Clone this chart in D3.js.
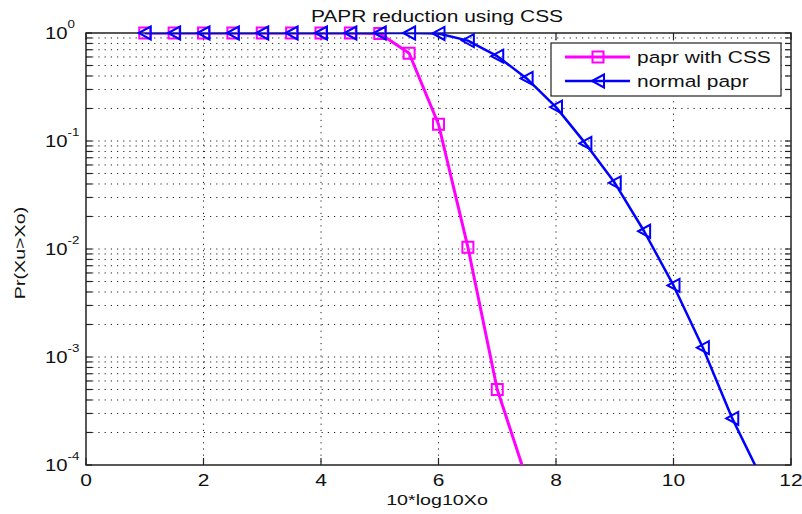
<!doctype html>
<html lang='en'>
<head>
    <meta charset='UTF-8'>
    <title>PAPR reduction using CSS</title>
    <style>
        body { margin: 0; background: #fff; }
        svg { display: block; }
        text { font-family: 'Liberation Sans', Arial, sans-serif; fill: #111; }
        .grid line { stroke: #222; stroke-width: 1; stroke-dasharray: 1.2, 5; }
        .frame { fill: none; stroke: #222; stroke-width: 1.5; }
        .ticks line { stroke: #222; stroke-width: 1.2; }
    </style>
</head>
<body>
<script src='https://d3js.org/d3.v7.min.js'></script>
<script>
  // data
  const cssX = [1, 1.5, 2, 2.5, 3, 3.5, 4, 4.5, 5, 5.5, 6, 6.5, 7, 7.5]
  const cssY = [1, 1, 1, 1, 1, 1, 1, 1, 0.99, 0.65, 0.143, 0.0104, 0.0005, 0.000074]
  const normalX = [1, 1.5, 2, 2.5, 3, 3.5, 4, 4.5, 5, 5.5, 6, 6.5, 7, 7.5, 8, 8.5, 9, 9.5, 10, 10.5, 11, 11.5]
  const normalY = [1, 1, 1, 1, 1, 1, 1, 1, 1, 1, 0.99, 0.85, 0.61, 0.38, 0.206, 0.095, 0.041, 0.0146, 0.0046, 0.00122, 0.00027, 0.000075]
  const xTicks = [0, 2, 4, 6, 8, 10, 12]
  const yDecades = [0, -1, -2, -3, -4]
  const seriesNames = ['papr with CSS', 'normal papr']

  const W = 802, H = 514
  const margin = {top: 33, right: 11, bottom: 49, left: 86}
  const w = W - margin.left - margin.right,
    h = H - margin.top - margin.bottom
  const SX = 1.27 // the original figure is stretched sideways

  const xScale = d3.scaleLinear().domain([0, 12]).range([0, w])
  const yScale = d3.scaleLog().domain([1e-4, 1]).range([h, 0])

  const svg = d3.select('body').append('svg')
    .attr('width', W)
    .attr('height', H)

  const g = svg.append('g')
    .attr('transform', `translate(${margin.left}, ${margin.top})`)

  function label(sel, x, y, s, size, anchor) {
    return sel.append('text')
      .attr('transform', `translate(${x}, ${y}) scale(${SX}, 1)`)
      .attr('text-anchor', anchor || 'middle')
      .style('font-size', size + 'px')
      .text(s)
  }

  //// grid ////
  const minor = []
  yDecades.slice(0, -1).forEach(e => {
    for (let k = 1; k < 10; k++) minor.push(k * Math.pow(10, e - 1))
  })
  const grid = g.append('g').attr('class', 'grid')
  grid.selectAll('line.h')
    .data(minor.filter(v => v > 1e-4))
    .enter().append('line')
    .attr('x1', 0).attr('x2', w)
    .attr('y1', d => yScale(d)).attr('y2', d => yScale(d))
  grid.selectAll('line.v')
    .data(xTicks.slice(1, -1))
    .enter().append('line')
    .attr('x1', d => xScale(d)).attr('x2', d => xScale(d))
    .attr('y1', 0).attr('y2', h)

  //// ticks (inward, on all four sides) ////
  const ticks = g.append('g').attr('class', 'ticks')
  const yTickVals = minor.concat([1])
  ticks.selectAll('line.l')
    .data(yTickVals)
    .enter().append('line')
    .attr('x1', 0).attr('x2', 6)
    .attr('y1', d => yScale(d)).attr('y2', d => yScale(d))
  ticks.selectAll('line.r')
    .data(yTickVals)
    .enter().append('line')
    .attr('x1', w).attr('x2', w - 6)
    .attr('y1', d => yScale(d)).attr('y2', d => yScale(d))
  ticks.selectAll('line.b')
    .data(xTicks)
    .enter().append('line')
    .attr('x1', d => xScale(d)).attr('x2', d => xScale(d))
    .attr('y1', h).attr('y2', h - 7)
  ticks.selectAll('line.t')
    .data(xTicks)
    .enter().append('line')
    .attr('x1', d => xScale(d)).attr('x2', d => xScale(d))
    .attr('y1', 0).attr('y2', 7)

  g.append('rect').attr('class', 'frame')
    .attr('width', w).attr('height', h)

  //// tick labels ////
  xTicks.forEach(d => label(g, xScale(d), h + 21, String(d), 16.5))

  yDecades.forEach(e => {
    const t = g.append('text')
      .attr('transform', `translate(${45 - margin.left}, ${yScale(Math.pow(10, e)) + 6}) scale(${SX}, 1)`)
      .style('font-size', '16px')
    t.append('tspan').text('10')
    t.append('tspan').attr('dy', -11).style('font-size', '10.5px').text(String(e))
  })

  //// titles ////
  label(svg, 437, 22, 'PAPR reduction using CSS', 16.5)
  label(svg, 437, 505, '10*log10Xo', 15.5)
  svg.append('text')
    .attr('transform', `translate(25, 253) rotate(-90) scale(${SX}, 1)`)
    .attr('text-anchor', 'middle')
    .style('font-size', '15.5px')
    .text('Pr(Xu>Xo)')

  //// lines ////
  svg.append('clipPath').attr('id', 'plot-clip')
    .append('rect').attr('width', w).attr('height', h)

  const line = d3.line()
    .x(d => xScale(d[0]))
    .y(d => yScale(d[1]))

  const cssData = cssX.map((x, i) => [x, cssY[i]])
  const normalData = normalX.map((x, i) => [x, normalY[i]])

  const squarePath = 'M-5.5,-5.5H5.5V5.5H-5.5Z'
  const triPath = 'M-6,0L6,-6.5L6,6.5Z'

  const series = [
    {data: cssData, color: '#ff00ff', width: 3, marker: squarePath},
    {data: normalData, color: '#0000ff', width: 2.5, marker: triPath}
  ]

  series.forEach(s => {
    g.append('path')
      .attr('clip-path', 'url(#plot-clip)')
      .attr('d', line(s.data))
      .attr('fill', 'none')
      .attr('stroke', s.color)
      .attr('stroke-width', s.width)
      .attr('stroke-linejoin', 'round')
    g.append('g').selectAll('path')
      .data(s.data.filter(d => d[1] >= 1e-4))
      .enter().append('path')
      .attr('transform', d => `translate(${xScale(d[0])}, ${yScale(d[1])})`)
      .attr('d', s.marker)
      .attr('fill', 'none')
      .attr('stroke', s.color)
      .attr('stroke-width', 2)
  })

  //// legend ////
  const legend = svg.append('g').attr('transform', 'translate(551, 43)')
  legend.append('rect')
    .attr('width', 230).attr('height', 53)
    .attr('fill', '#fff').attr('stroke', '#222').attr('stroke-width', 1.2)
  series.forEach((s, i) => {
    const y = 14 + i * 24
    legend.append('line')
      .attr('x1', 14).attr('x2', 79).attr('y1', y).attr('y2', y)
      .attr('stroke', s.color).attr('stroke-width', s.width)
    legend.append('path')
      .attr('transform', `translate(47, ${y})`)
      .attr('d', s.marker)
      .attr('fill', 'none').attr('stroke', s.color).attr('stroke-width', 2)
    label(legend, 86, y + 6, seriesNames[i], 16.5, 'start')
  })
</script>
</body>
</html>
